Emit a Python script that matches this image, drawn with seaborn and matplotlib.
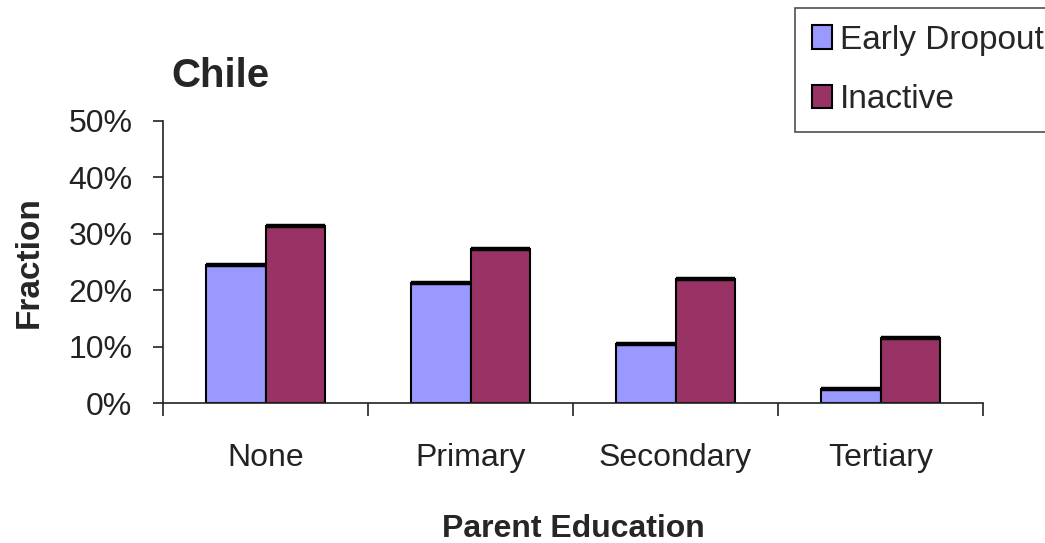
import pandas as pd
import matplotlib.pyplot as plt
import seaborn as sns
from matplotlib.ticker import PercentFormatter

categories = ["None", "Primary", "Secondary", "Tertiary"]
early_dropout = [0.244, 0.212, 0.105, 0.024]
inactive = [0.314, 0.273, 0.219, 0.116]
series_names = ["Early Dropout", "Inactive"]
colors = ["#9999FF", "#993366"]

df = pd.DataFrame({
    "Parent Education": categories * 2,
    "Fraction": early_dropout + inactive,
    "Series": [series_names[0]] * 4 + [series_names[1]] * 4,
})

sns.set_style("white")
plt.rcParams["font.family"] = ["Liberation Sans", "DejaVu Sans"]

fig = plt.figure(figsize=(10.45, 5.43), dpi=100)
ax = fig.add_axes([0.156, 0.2578, 0.7847, 0.5194])

sns.barplot(data=df, x="Parent Education", y="Fraction", hue="Series",
            palette=colors, saturation=1, width=0.58, gap=0,
            edgecolor="black", linewidth=1.5, ax=ax, legend=True)

# heavier top edge on each bar, like the old spreadsheet look
for p in ax.patches:
    if p.get_height() > 0:
        ax.plot([p.get_x(), p.get_x() + p.get_width()],
                [p.get_y() + p.get_height()] * 2,
                color="black", lw=3.2, solid_capstyle="butt", zorder=3)

ax.set_ylim(0, 0.5)
ax.set_xlim(-0.5, 3.5)
ax.yaxis.set_major_formatter(PercentFormatter(1.0, decimals=0))
ax.set_yticks([0, 0.1, 0.2, 0.3, 0.4, 0.5])
ax.tick_params(axis="y", labelsize=23, length=7, width=1.2, direction="out",
               left=True, pad=15, colors="#222222")
ax.set_xticks(range(4))
ax.set_xticks([-0.5, 0.5, 1.5, 2.5, 3.5], minor=True)
ax.tick_params(axis="x", which="major", length=0, labelsize=23, pad=29,
               colors="#222222")
ax.tick_params(axis="x", which="minor", length=9, width=1.2, bottom=True,
               colors="#222222")

for side in ["top", "right"]:
    ax.spines[side].set_visible(False)
for side in ["left", "bottom"]:
    ax.spines[side].set_color("#222222")
    ax.spines[side].set_linewidth(1.2)

ax.set_xlabel("Parent Education", fontsize=23, fontweight="bold", labelpad=29)
ax.set_ylabel("Fraction", fontsize=24, fontweight="bold", labelpad=17)
fig.text(171 / 1045, 1 - 87 / 543, "Chile", fontsize=29, fontweight="bold",
         va="baseline")

handles, labels = ax.get_legend_handles_labels()
ax.legend(handles, labels, loc="upper left", bbox_to_anchor=(795 / 1045, 1 - 8 / 543),
          bbox_transform=fig.transFigure, fontsize=24, frameon=True,
          fancybox=False, edgecolor="#222222", handlelength=0.6,
          handleheight=0.7, handletextpad=0.25, labelspacing=0.85,
          borderpad=0.5, borderaxespad=0)
ax.get_legend().get_frame().set_linewidth(1.2)

fig.savefig("out.png", dpi=100)
